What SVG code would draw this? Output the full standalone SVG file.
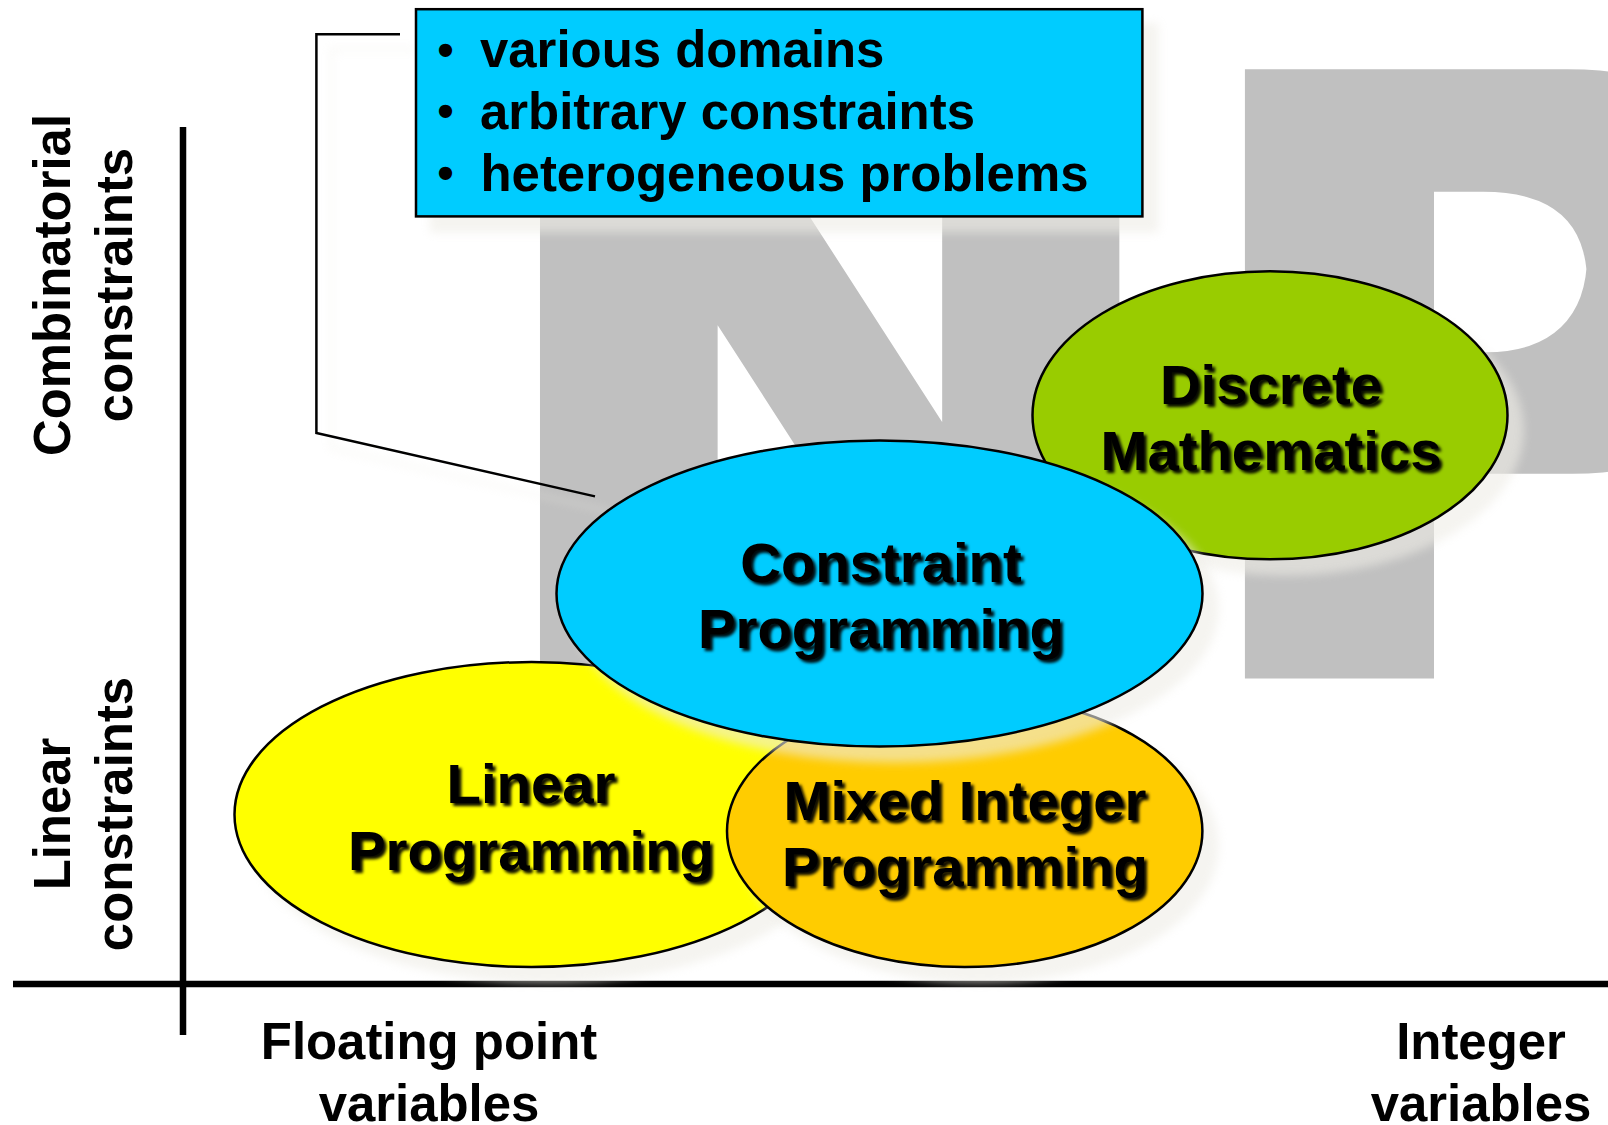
<svg xmlns="http://www.w3.org/2000/svg" width="1608" height="1125" viewBox="0 0 1608 1125">
<defs>
<filter id="soft" x="-20%" y="-20%" width="140%" height="140%" color-interpolation-filters="sRGB"><feDropShadow dx="15" dy="15" stdDeviation="5" flood-color="#eeece6" flood-opacity="0.6"/></filter>
<filter id="txt" x="-10%" y="-20%" width="120%" height="140%" color-interpolation-filters="sRGB"><feDropShadow dx="3" dy="3" stdDeviation="1.7" flood-color="#000" flood-opacity="0.95"/></filter>
<filter id="heavy" filterUnits="userSpaceOnUse" x="0" y="0" width="2200" height="1125" color-interpolation-filters="sRGB"><feMorphology operator="dilate" radius="37.7 13.5"/></filter>
</defs>
<style>
text{font-family:"Liberation Sans",Arial,sans-serif;font-weight:700;fill:#000;font-size:50.9px}
.c{text-anchor:middle}
.n{font-size:56.3px;text-anchor:middle}
.b{font-size:46px}
.e{stroke:#000;stroke-width:2.5}
.a{stroke:#000;stroke-width:6.5;fill:none}
</style>
<rect width="1608" height="1125" fill="#fff"/>
<text id="np-n" x="436.8" y="671.5" transform="scale(1.135 1)" style="font-family:Roboto,sans-serif;font-weight:900;font-size:838px;fill:#c0c0c0;stroke:#c0c0c0;stroke-width:12.9;stroke-linejoin:miter">N</text>
<text id="np-p" x="1275" y="664.5" transform="scale(.962 1)" filter="url(#heavy)" style="font-size:845px;fill:#c0c0c0">P</text>
<g id="connectors">
<path class="a" d="M183 127V1035"/>
<path class="a" d="M13 984H1608"/>
<path d="M400 34.300H316.400V433L595 496.400" fill="none" stroke="#000" stroke-width="2.500" filter="url(#soft)"/>
</g>
<g id="axis-labels">
<text class="c" transform="translate(70 285) rotate(-90)">Combinatorial</text>
<text class="c" transform="translate(132 285) rotate(-90)">constraints</text>
<text class="c" transform="translate(70 814) rotate(-90)">Linear</text>
<text class="c" transform="translate(132 814) rotate(-90)">constraints</text>
<text class="c" x="429" y="1059">Floating point</text>
<text class="c" x="429" y="1121">variables</text>
<text class="c" x="1481" y="1059">Integer</text>
<text class="c" x="1481" y="1121">variables</text>
</g>
<g id="discrete"><ellipse class="e" cx="1270" cy="415.300" rx="237.500" ry="144" fill="#99cc00" filter="url(#soft)"/>
<g filter="url(#txt)"><text class="n" x="1271" y="404">Discrete</text><text class="n" x="1271" y="470">Mathematics</text></g></g>
<g id="linear"><ellipse class="e" cx="531.500" cy="814.500" rx="297" ry="152.500" fill="#ffff00" filter="url(#soft)"/>
<g filter="url(#txt)"><text class="n" x="531" y="803">Linear</text><text class="n" x="531" y="869.500">Programming</text></g></g>
<g id="mixed"><ellipse class="e" cx="964.700" cy="831" rx="237.700" ry="136" fill="#ffcc00" filter="url(#soft)"/>
<g filter="url(#txt)"><text class="n" x="965" y="820">Mixed Integer</text><text class="n" x="965" y="886">Programming</text></g></g>
<g id="constraint"><ellipse class="e" cx="879.500" cy="593.500" rx="323" ry="153" fill="#00ccff" filter="url(#soft)"/>
<g filter="url(#txt)"><text class="n" x="881" y="582">Constraint</text><text class="n" x="881" y="648">Programming</text></g></g>
<g id="callout"><rect x="416" y="9.200" width="726.400" height="207.200" fill="#00ccff" stroke="#000" stroke-width="2.500" filter="url(#soft)"/>
<text class="b" x="437.500" y="66">•</text><text x="480" y="67">various domains</text>
<text class="b" x="437.500" y="127">•</text><text x="480" y="128.500">arbitrary constraints</text>
<text class="b" x="437.500" y="189">•</text><text x="480.500" y="191">heterogeneous problems</text></g>
</svg>
